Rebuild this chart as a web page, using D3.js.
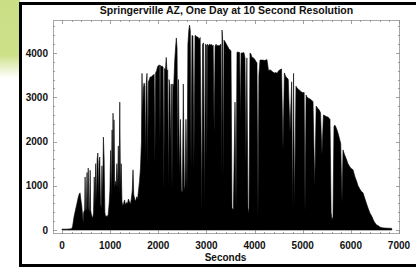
<!DOCTYPE html>
<html>
<head>
<meta charset="utf-8">
<script src="https://cdn.jsdelivr.net/npm/d3@7"></script>
<style>
  body { margin: 0; background: #fff; }
  svg { display: block; }
  text { font-family: "Liberation Sans", Arial, sans-serif; font-weight: bold; fill: #111; }
</style>
</head>
<body>
<div id="chart"></div>
<script>
// samples (seconds, value)
const seconds = [0,100,200,220,250,280,310,340,360,375,390,410,430,440,450,470,480,490,505,520,530,545,555,570,585,595,610,625,640,655,670,685,700,715,730,745,755,770,785,800,815,830,845,860,875,890,905,920,940,960,980,995,1010,1025,1040,1050,1060,1070,1080,1095,1110,1125,1140,1155,1170,1185,1200,1215,1230,1245,1260,1280,1300,1320,1340,1360,1380,1400,1420,1440,1460,1475,1490,1510,1530,1550,1570,1590,1610,1630,1650,1662,1675,1690,1705,1720,1735,1750,1766,1780,1795,1815,1830,1850,1870,1895,1915,1930,1945,1965,1985,2005,2025,2035,2045,2065,2085,2100,2115,2130,2150,2165,2180,2195,2210,2225,2240,2255,2270,2285,2300,2320,2340,2360,2375,2390,2405,2420,2440,2460,2480,2500,2520,2540,2555,2575,2597,2615,2635,2650,2665,2680,2700,2720,2740,2763,2785,2805,2825,2845,2870,2890,2905,2920,2940,2960,2980,3000,3010,3020,3040,3060,3080,3100,3120,3140,3160,3180,3200,3220,3240,3260,3280,3300,3315,3324,3335,3350,3365,3390,3415,3440,3465,3490,3510,3531,3560,3594,3615,3635,3660,3690,3705,3720,3750,3780,3801,3820,3840,3864,3885,3905,3925,3945,3968,3990,4010,4030,4050,4071,4090,4113,4140,4175,4200,4230,4258,4290,4321,4350,4380,4410,4440,4470,4500,4528,4560,4591,4620,4650,4674,4700,4736,4770,4790,4810,4830,4860,4882,4910,4944,4975,5006,5030,5048,5070,5089,5120,5152,5180,5214,5250,5280,5310,5340,5370,5400,5430,5463,5500,5530,5567,5590,5609,5629,5650,5671,5700,5733,5760,5790,5816,5837,5870,5900,5941,5983,6020,6045,6086,6120,6149,6190,6220,6253,6294,6330,6356,6398,6440,6470,6502,6540,6564,6600,6647,6700,6772,6813,6850];
const power = [20,20,30,80,300,450,600,750,820,840,700,550,300,150,400,450,1200,500,420,1300,400,1400,500,380,1350,450,350,300,270,400,1200,500,1500,600,1600,1740,700,1550,1650,600,500,1450,700,2100,1600,400,300,320,300,350,600,900,1800,700,2260,1100,2640,1000,2490,950,1100,980,1500,900,1900,800,2890,900,1500,650,550,600,680,560,620,600,700,640,580,700,900,1360,800,700,650,750,700,900,1100,1400,2000,3540,2600,3200,3320,3250,1600,3300,3540,1420,3350,3400,3460,3450,3480,3500,3520,1510,3550,3600,3690,3720,3730,2000,3720,3700,3700,3680,860,3650,3620,3900,3600,3620,900,3400,3230,1800,3300,860,3300,3230,3800,4140,4340,4100,1500,3400,1200,2500,900,840,3300,900,1000,2500,900,4200,4520,4630,4500,1360,4400,4380,1400,4400,4380,4360,4360,4300,4350,2000,450,4200,4230,600,4200,4180,1500,4200,4150,4200,4180,4200,4150,4180,2200,4150,4200,4150,4180,4150,4180,4200,1010,4520,4340,1130,4290,4250,4200,4150,4100,4070,4050,500,450,2890,500,4020,4020,4010,2500,4000,4000,4010,3890,1500,3890,380,500,4000,3980,3900,3900,3870,3850,3800,3780,300,3500,3840,3840,3840,3830,3840,3850,3600,3620,3600,3570,3550,3560,3540,3600,3620,3640,1800,3550,3460,3440,3400,2200,3350,450,3540,500,3250,3210,3180,3150,3120,3100,3110,380,3050,3000,2980,2960,2940,2900,970,2800,2750,2720,2650,1700,2600,2580,2560,2550,2500,400,225,300,2350,2370,2300,2190,2080,1950,610,1810,1700,1620,1500,1420,1380,1360,1200,1100,1000,920,870,840,700,580,500,380,300,220,160,110,100,70,50,45,40,40,35];

const xTicks = [0, 1000, 2000, 3000, 4000, 5000, 6000, 7000];
const yTicks = [0, 1000, 2000, 3000, 4000];
const title = "Springerville AZ, One Day at 10 Second Resolution";
const xLabel = "Seconds";

const W = 416, H = 267;
const plot = {left: 53, right: 400, top: 20, bottom: 234};

const svg = d3.select("#chart").append("svg")
    .attr("width", W)
    .attr("height", H);

// green corner blob behind the frame
const defs = svg.append("defs");
const grad = defs.append("linearGradient")
    .attr("id", "greenfade")
    .attr("x1", 0).attr("y1", 0).attr("x2", 0).attr("y2", 1);
grad.append("stop").attr("offset", "0%").attr("stop-color", "#c9df86");
grad.append("stop").attr("offset", "70%").attr("stop-color", "#cce088");
grad.append("stop").attr("offset", "100%").attr("stop-color", "#ffffff");
svg.append("rect")
    .attr("x", 0).attr("y", 0)
    .attr("width", 20).attr("height", 78)
    .attr("fill", "url(#greenfade)");

// black page frame
svg.append("rect")
    .attr("x", 20.5).attr("y", 3.5)
    .attr("width", 430).attr("height", 262)
    .attr("fill", "#fff")
    .attr("stroke", "#000")
    .attr("stroke-width", 3);

const x = d3.scaleLinear().domain([-187, 7021]).range([plot.left, plot.right]);
const y = d3.scaleLinear().domain([-90, 4746]).range([plot.bottom, plot.top]);

const data = seconds.map((s, i) => ({s: s, v: power[i]}));

const area = d3.area()
    .x(d => x(d.s))
    .y0(y(0))
    .y1(d => y(d.v));

svg.append("path")
    .datum(data)
    .attr("d", area)
    .attr("fill", "#000")
    .attr("stroke", "#000")
    .attr("stroke-width", 0.6)
    .attr("stroke-linejoin", "miter");

// frame axes, ticks pointing inward on all four sides
const frameCol = "#a8a8a8";
svg.append("rect")
    .attr("x", plot.left + 0.5).attr("y", plot.top + 0.5)
    .attr("width", plot.right - plot.left - 1)
    .attr("height", plot.bottom - plot.top - 1)
    .attr("fill", "none")
    .attr("stroke", frameCol)
    .attr("stroke-width", 1);

const xMinor = d3.range(0, 7001, 200).filter(v => v % 1000 !== 0);
const yMinor = d3.range(0, 4701, 200).filter(v => v % 1000 !== 0);

const ticks = svg.append("g").attr("stroke", "#8a8a8a").attr("stroke-width", 0.8);
function xTick(v, len) {
    const px = Math.round(x(v)) + 0.5;
    ticks.append("line").attr("x1", px).attr("x2", px)
        .attr("y1", plot.bottom).attr("y2", plot.bottom - len);
    ticks.append("line").attr("x1", px).attr("x2", px)
        .attr("y1", plot.top).attr("y2", plot.top + len);
}
function yTick(v, len) {
    const py = Math.round(y(v)) + 0.5;
    ticks.append("line").attr("x1", plot.left).attr("x2", plot.left + len)
        .attr("y1", py).attr("y2", py);
    ticks.append("line").attr("x1", plot.right).attr("x2", plot.right - len)
        .attr("y1", py).attr("y2", py);
}
xTicks.forEach(v => xTick(v, 4));
xMinor.forEach(v => xTick(v, 2));
yTicks.forEach(v => yTick(v, 4));
yMinor.forEach(v => yTick(v, 2));

svg.append("g").selectAll("text")
    .data(xTicks)
    .join("text")
    .attr("x", d => x(d))
    .attr("y", 249)
    .attr("text-anchor", "middle")
    .attr("font-size", 10)
    .text(d => d);

svg.append("g").selectAll("text")
    .data(yTicks)
    .join("text")
    .attr("x", 48)
    .attr("y", d => y(d) + 3.5)
    .attr("text-anchor", "end")
    .attr("font-size", 10)
    .text(d => d);

svg.append("text")
    .attr("x", 226.5)
    .attr("y", 13.5)
    .attr("text-anchor", "middle")
    .attr("font-size", 10.5)
    .text(title);

svg.append("text")
    .attr("x", 225.5)
    .attr("y", 261)
    .attr("text-anchor", "middle")
    .attr("font-size", 10)
    .text(xLabel);
</script>
</body>
</html>
